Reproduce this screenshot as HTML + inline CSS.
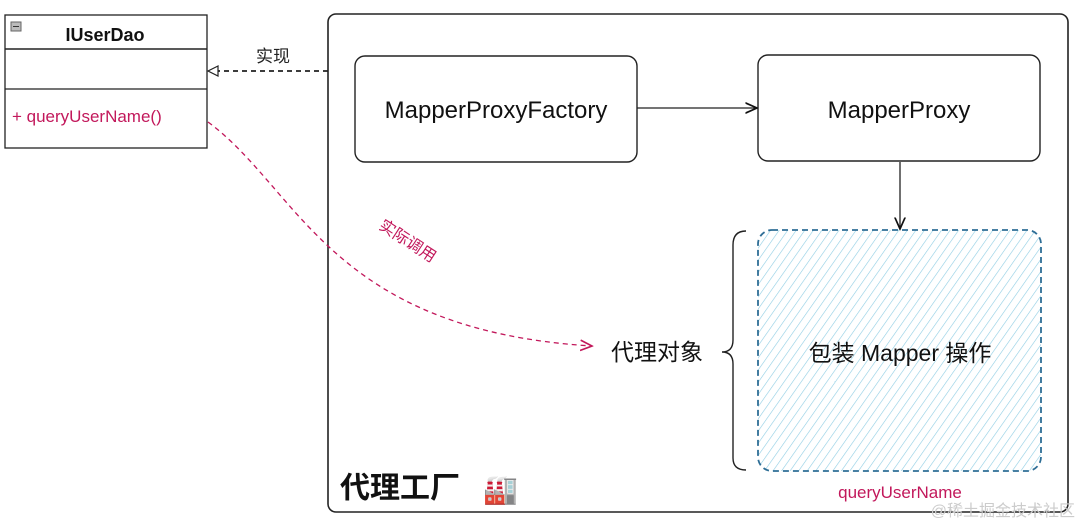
<!DOCTYPE html>
<html><head><meta charset="utf-8"><style>
html,body{margin:0;padding:0;background:#fff;width:1080px;height:525px;overflow:hidden}
text{font-family:"Liberation Sans","Noto Sans CJK SC",sans-serif}
</style></head><body>
<svg width="1080" height="525" viewBox="0 0 1080 525" xmlns="http://www.w3.org/2000/svg">
<defs>
<pattern id="h" patternUnits="userSpaceOnUse" width="7" height="7" patternTransform="rotate(35)">
<line x1="0" y1="0" x2="0" y2="7" stroke="#8ecde3" stroke-width="1.2"/>
</pattern>
<marker id="a" markerWidth="10" markerHeight="10" refX="9" refY="5" orient="auto"><path d="M0,1 L9,5 L0,9" fill="none" stroke="#111" stroke-width="1.3"/></marker>
<marker id="ap" markerWidth="10" markerHeight="10" refX="9" refY="5" orient="auto"><path d="M0,1 L9,5 L0,9" fill="none" stroke="#c2185b" stroke-width="1.3"/></marker>
</defs>
<rect x="5" y="15" width="202" height="133" fill="#fff" stroke="#222" stroke-width="1.3"/>
<line x1="5" y1="49" x2="207" y2="49" stroke="#222" stroke-width="1.6"/>
<line x1="5" y1="89" x2="207" y2="89" stroke="#222" stroke-width="1.3"/>
<rect x="11" y="22" width="10" height="9" fill="#bbb" stroke="#666"/>
<line x1="13" y1="26.5" x2="19" y2="26.5" stroke="#333"/>
<text x="105" y="41" font-size="18" font-weight="bold" text-anchor="middle" fill="#111">IUserDao</text>
<text x="12" y="122" font-size="17" fill="#c2185b">+ queryUserName()</text>
<line x1="328" y1="71" x2="218" y2="71" stroke="#222" stroke-width="1.8" stroke-dasharray="5,4"/>
<path d="M218,66 L208,71 L218,76 Z" fill="#fff" stroke="#222" stroke-width="1.2"/>
<text x="273" y="62" font-size="17" text-anchor="middle" fill="#222">实现</text>
<rect x="328" y="14" width="740" height="498" rx="8" fill="none" stroke="#222" stroke-width="1.6"/>
<rect x="355" y="56" width="282" height="106" rx="10" fill="#fff" stroke="#222" stroke-width="1.4"/>
<text x="496" y="118" font-size="24" text-anchor="middle" fill="#111">MapperProxyFactory</text>
<rect x="758" y="55" width="282" height="106" rx="10" fill="#fff" stroke="#222" stroke-width="1.4"/>
<text x="899" y="118" font-size="24" text-anchor="middle" fill="#111">MapperProxy</text>
<line x1="637" y1="108" x2="757" y2="108" stroke="#222" stroke-width="1.3" marker-end="url(#a)"/>
<line x1="900" y1="162" x2="900" y2="229" stroke="#222" stroke-width="1.3" marker-end="url(#a)"/>
<rect x="758" y="230" width="283" height="241" rx="14" fill="url(#h)" stroke="#2e6e96" stroke-width="1.8" stroke-dasharray="6,4"/>
<text x="900" y="361" font-size="23" text-anchor="middle" fill="#111">包装 Mapper 操作</text>
<path d="M746,231 Q733,231 733,245 L733,340 Q733,352 722,352 Q733,352 733,364 L733,458 Q733,470 746,470" fill="none" stroke="#222" stroke-width="1.4"/>
<text x="657" y="360" font-size="23" text-anchor="middle" fill="#111">代理对象</text>
<text x="900" y="498" font-size="17" text-anchor="middle" fill="#c2185b">queryUserName</text>
<text x="340" y="498" font-size="30" font-weight="bold" fill="#111">代理工厂</text>
<text x="483" y="499" font-size="28">🏭</text>
<path d="M208,122 C300,190 330,330 592,346" fill="none" stroke="#c2185b" stroke-width="1.3" stroke-dasharray="5,4" marker-end="url(#ap)"/>
<text x="0" y="0" font-size="16" fill="#c2185b" transform="translate(378,228) rotate(33)">实际调用</text>
<text x="1075" y="516" font-size="16" text-anchor="end" fill="#ccc">@稀土掘金技术社区</text>
</svg>
</body></html>
